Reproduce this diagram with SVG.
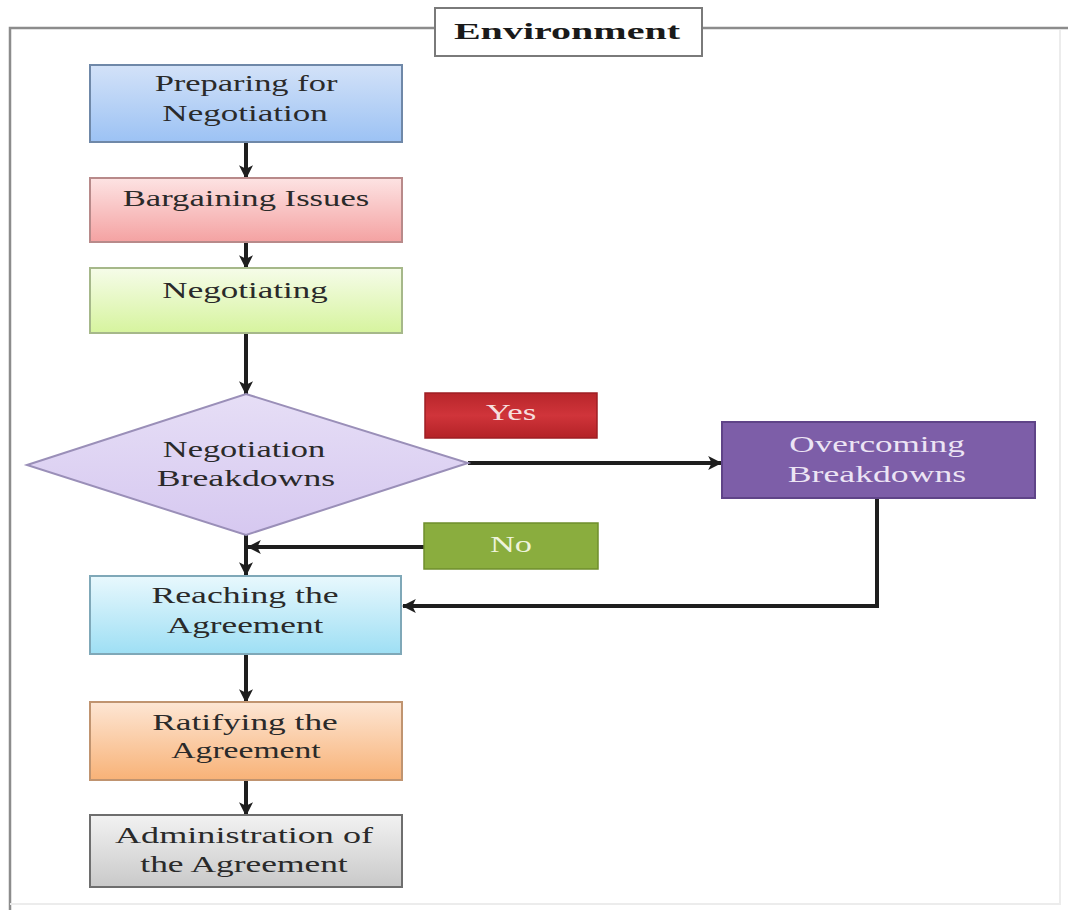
<svg xmlns="http://www.w3.org/2000/svg" width="1071" height="910" viewBox="0 0 1071 910">
  <defs>
    <linearGradient id="gBlue" x1="0" y1="0" x2="0" y2="1">
      <stop offset="0" stop-color="#d3e2f8"/>
      <stop offset="1" stop-color="#9cc2f4"/>
    </linearGradient>
    <linearGradient id="gPink" x1="0" y1="0" x2="0" y2="1">
      <stop offset="0" stop-color="#fde3e3"/>
      <stop offset="1" stop-color="#f4a2a2"/>
    </linearGradient>
    <linearGradient id="gLime" x1="0" y1="0" x2="0" y2="1">
      <stop offset="0" stop-color="#f6fce9"/>
      <stop offset="1" stop-color="#d6f49e"/>
    </linearGradient>
    <linearGradient id="gLav" x1="0" y1="0" x2="0" y2="1">
      <stop offset="0" stop-color="#e6def6"/>
      <stop offset="1" stop-color="#d6c8f0"/>
    </linearGradient>
    <linearGradient id="gCyan" x1="0" y1="0" x2="0" y2="1">
      <stop offset="0" stop-color="#e8f8fd"/>
      <stop offset="1" stop-color="#9edff4"/>
    </linearGradient>
    <linearGradient id="gOrange" x1="0" y1="0" x2="0" y2="1">
      <stop offset="0" stop-color="#fde6d4"/>
      <stop offset="1" stop-color="#f8b277"/>
    </linearGradient>
    <linearGradient id="gGray" x1="0" y1="0" x2="0" y2="1">
      <stop offset="0" stop-color="#f2f2f2"/>
      <stop offset="1" stop-color="#c9c9c9"/>
    </linearGradient>
    <linearGradient id="gRed" x1="0" y1="0" x2="0" y2="1">
      <stop offset="0" stop-color="#b8262b"/>
      <stop offset="0.5" stop-color="#d0343a"/>
      <stop offset="1" stop-color="#b32227"/>
    </linearGradient>
    <marker id="arrow" viewBox="0 0 12 12" refX="11" refY="6" markerWidth="14" markerHeight="14" markerUnits="userSpaceOnUse" orient="auto">
      <path d="M0,0 L12,6 L0,12 L3,6 z" fill="#1e1e1e"/>
    </marker>
    <style>
      .box { stroke-width: 2; }
      .lbl { font-family: "Liberation Serif", "Times New Roman", serif; font-size: 23px; fill: #2a2a2a; text-anchor: middle; }
      .light { fill: #ece4f4; }
      .tag { fill: #f6dede; }
      .tagn { fill: #eef3dc; }
      .conn { fill: none; stroke: #1e1e1e; stroke-width: 4; }
      .frame { fill: none; stroke: #8c8c8c; stroke-width: 2.5; }
    </style>
  </defs>

  <rect width="1071" height="910" fill="#ffffff"/>

  <!-- environment frame; labels are drawn wide (x scale 1.45) -->
  <g id="environment">
    <path class="frame" d="M435,28 H10 V910"/>
    <path class="frame" d="M702,28 H1068"/>
    <path d="M1060,30 V904 H10" fill="none" stroke="#ececec" stroke-width="2"/>
    <rect x="435" y="8" width="267" height="48" fill="#ffffff" stroke="#7a7a7a" stroke-width="2"/>
    <text transform="matrix(1.45 0 0 1 567 39)" font-family="Liberation Serif, Times New Roman, serif" font-weight="bold" font-size="24" fill="#1a1a1a" text-anchor="middle" textLength="156" lengthAdjust="spacingAndGlyphs">Environment</text>
  </g>

  <!-- connectors -->
  <g id="connectors">
    <path class="conn" d="M246,143 V178" marker-end="url(#arrow)"/>
    <path class="conn" d="M246,242 V268" marker-end="url(#arrow)"/>
    <path class="conn" d="M246,334 V394" marker-end="url(#arrow)"/>
    <path class="conn" d="M468,463 H721" marker-end="url(#arrow)"/>
    <path class="conn" d="M246,535 V575" marker-end="url(#arrow)"/>
    <path class="conn" d="M424,547 H248" marker-end="url(#arrow)"/>
    <path class="conn" d="M877,498 V606 H403" marker-end="url(#arrow)"/>
    <path class="conn" d="M246,654 V702" marker-end="url(#arrow)"/>
    <path class="conn" d="M246,780 V815" marker-end="url(#arrow)"/>
  </g>

  <g id="preparing">
    <rect class="box" x="90" y="65" width="312" height="77" fill="url(#gBlue)" stroke="#6f88a8"/>
    <text class="lbl" transform="matrix(1.45 0 0 1 246 91)" textLength="126" lengthAdjust="spacingAndGlyphs">Preparing for</text>
    <text class="lbl" transform="matrix(1.45 0 0 1 245 121)" textLength="114" lengthAdjust="spacingAndGlyphs">Negotiation</text>
  </g>

  <g id="bargaining">
    <rect class="box" x="90" y="178" width="312" height="64" fill="url(#gPink)" stroke="#b88a8a"/>
    <text class="lbl" transform="matrix(1.45 0 0 1 246 206)" textLength="170" lengthAdjust="spacingAndGlyphs">Bargaining Issues</text>
  </g>

  <g id="negotiating">
    <rect class="box" x="90" y="268" width="312" height="65" fill="url(#gLime)" stroke="#a6b88a"/>
    <text class="lbl" transform="matrix(1.45 0 0 1 245 298)" textLength="114" lengthAdjust="spacingAndGlyphs">Negotiating</text>
  </g>

  <g id="breakdowns">
    <polygon points="27,465 246,394 468,463 246,535" fill="url(#gLav)" stroke="#9a8fb8" stroke-width="2"/>
    <text class="lbl" transform="matrix(1.45 0 0 1 244 457)" textLength="112" lengthAdjust="spacingAndGlyphs">Negotiation</text>
    <text class="lbl" transform="matrix(1.45 0 0 1 246 486)" textLength="123" lengthAdjust="spacingAndGlyphs">Breakdowns</text>
  </g>

  <g id="yes">
    <rect x="425" y="393" width="172" height="45" fill="url(#gRed)" stroke="#9e1f24" stroke-width="1.5"/>
    <text class="lbl tag" transform="matrix(1.45 0 0 1 511 420)" textLength="35" lengthAdjust="spacingAndGlyphs">Yes</text>
  </g>

  <g id="overcoming">
    <rect x="722" y="422" width="313" height="76" fill="#7d5ea8" stroke="#5f4488" stroke-width="2"/>
    <text class="lbl light" transform="matrix(1.45 0 0 1 877 452)" textLength="121" lengthAdjust="spacingAndGlyphs">Overcoming</text>
    <text class="lbl light" transform="matrix(1.45 0 0 1 877 482)" textLength="123" lengthAdjust="spacingAndGlyphs">Breakdowns</text>
  </g>

  <g id="no">
    <rect x="424" y="523" width="174" height="46" fill="#8aad3e" stroke="#6f8f2c" stroke-width="1.5"/>
    <text class="lbl tagn" transform="matrix(1.45 0 0 1 511 552)" textLength="29" lengthAdjust="spacingAndGlyphs">No</text>
  </g>

  <g id="reaching">
    <rect class="box" x="90" y="576" width="311" height="78" fill="url(#gCyan)" stroke="#7fa8b8"/>
    <text class="lbl" transform="matrix(1.45 0 0 1 245 603)" textLength="129" lengthAdjust="spacingAndGlyphs">Reaching the</text>
    <text class="lbl" transform="matrix(1.45 0 0 1 245 633)" textLength="108" lengthAdjust="spacingAndGlyphs">Agreement</text>
  </g>

  <g id="ratifying">
    <rect class="box" x="90" y="702" width="312" height="78" fill="url(#gOrange)" stroke="#c09470"/>
    <text class="lbl" transform="matrix(1.45 0 0 1 245 730)" textLength="128" lengthAdjust="spacingAndGlyphs">Ratifying the</text>
    <text class="lbl" transform="matrix(1.45 0 0 1 246 758)" textLength="103" lengthAdjust="spacingAndGlyphs">Agreement</text>
  </g>

  <g id="administration">
    <rect class="box" x="90" y="815" width="312" height="72" fill="url(#gGray)" stroke="#6e6e6e"/>
    <text class="lbl" transform="matrix(1.45 0 0 1 244 843)" textLength="178" lengthAdjust="spacingAndGlyphs">Administration of</text>
    <text class="lbl" transform="matrix(1.45 0 0 1 244 872)" textLength="143" lengthAdjust="spacingAndGlyphs">the Agreement</text>
  </g>
</svg>
